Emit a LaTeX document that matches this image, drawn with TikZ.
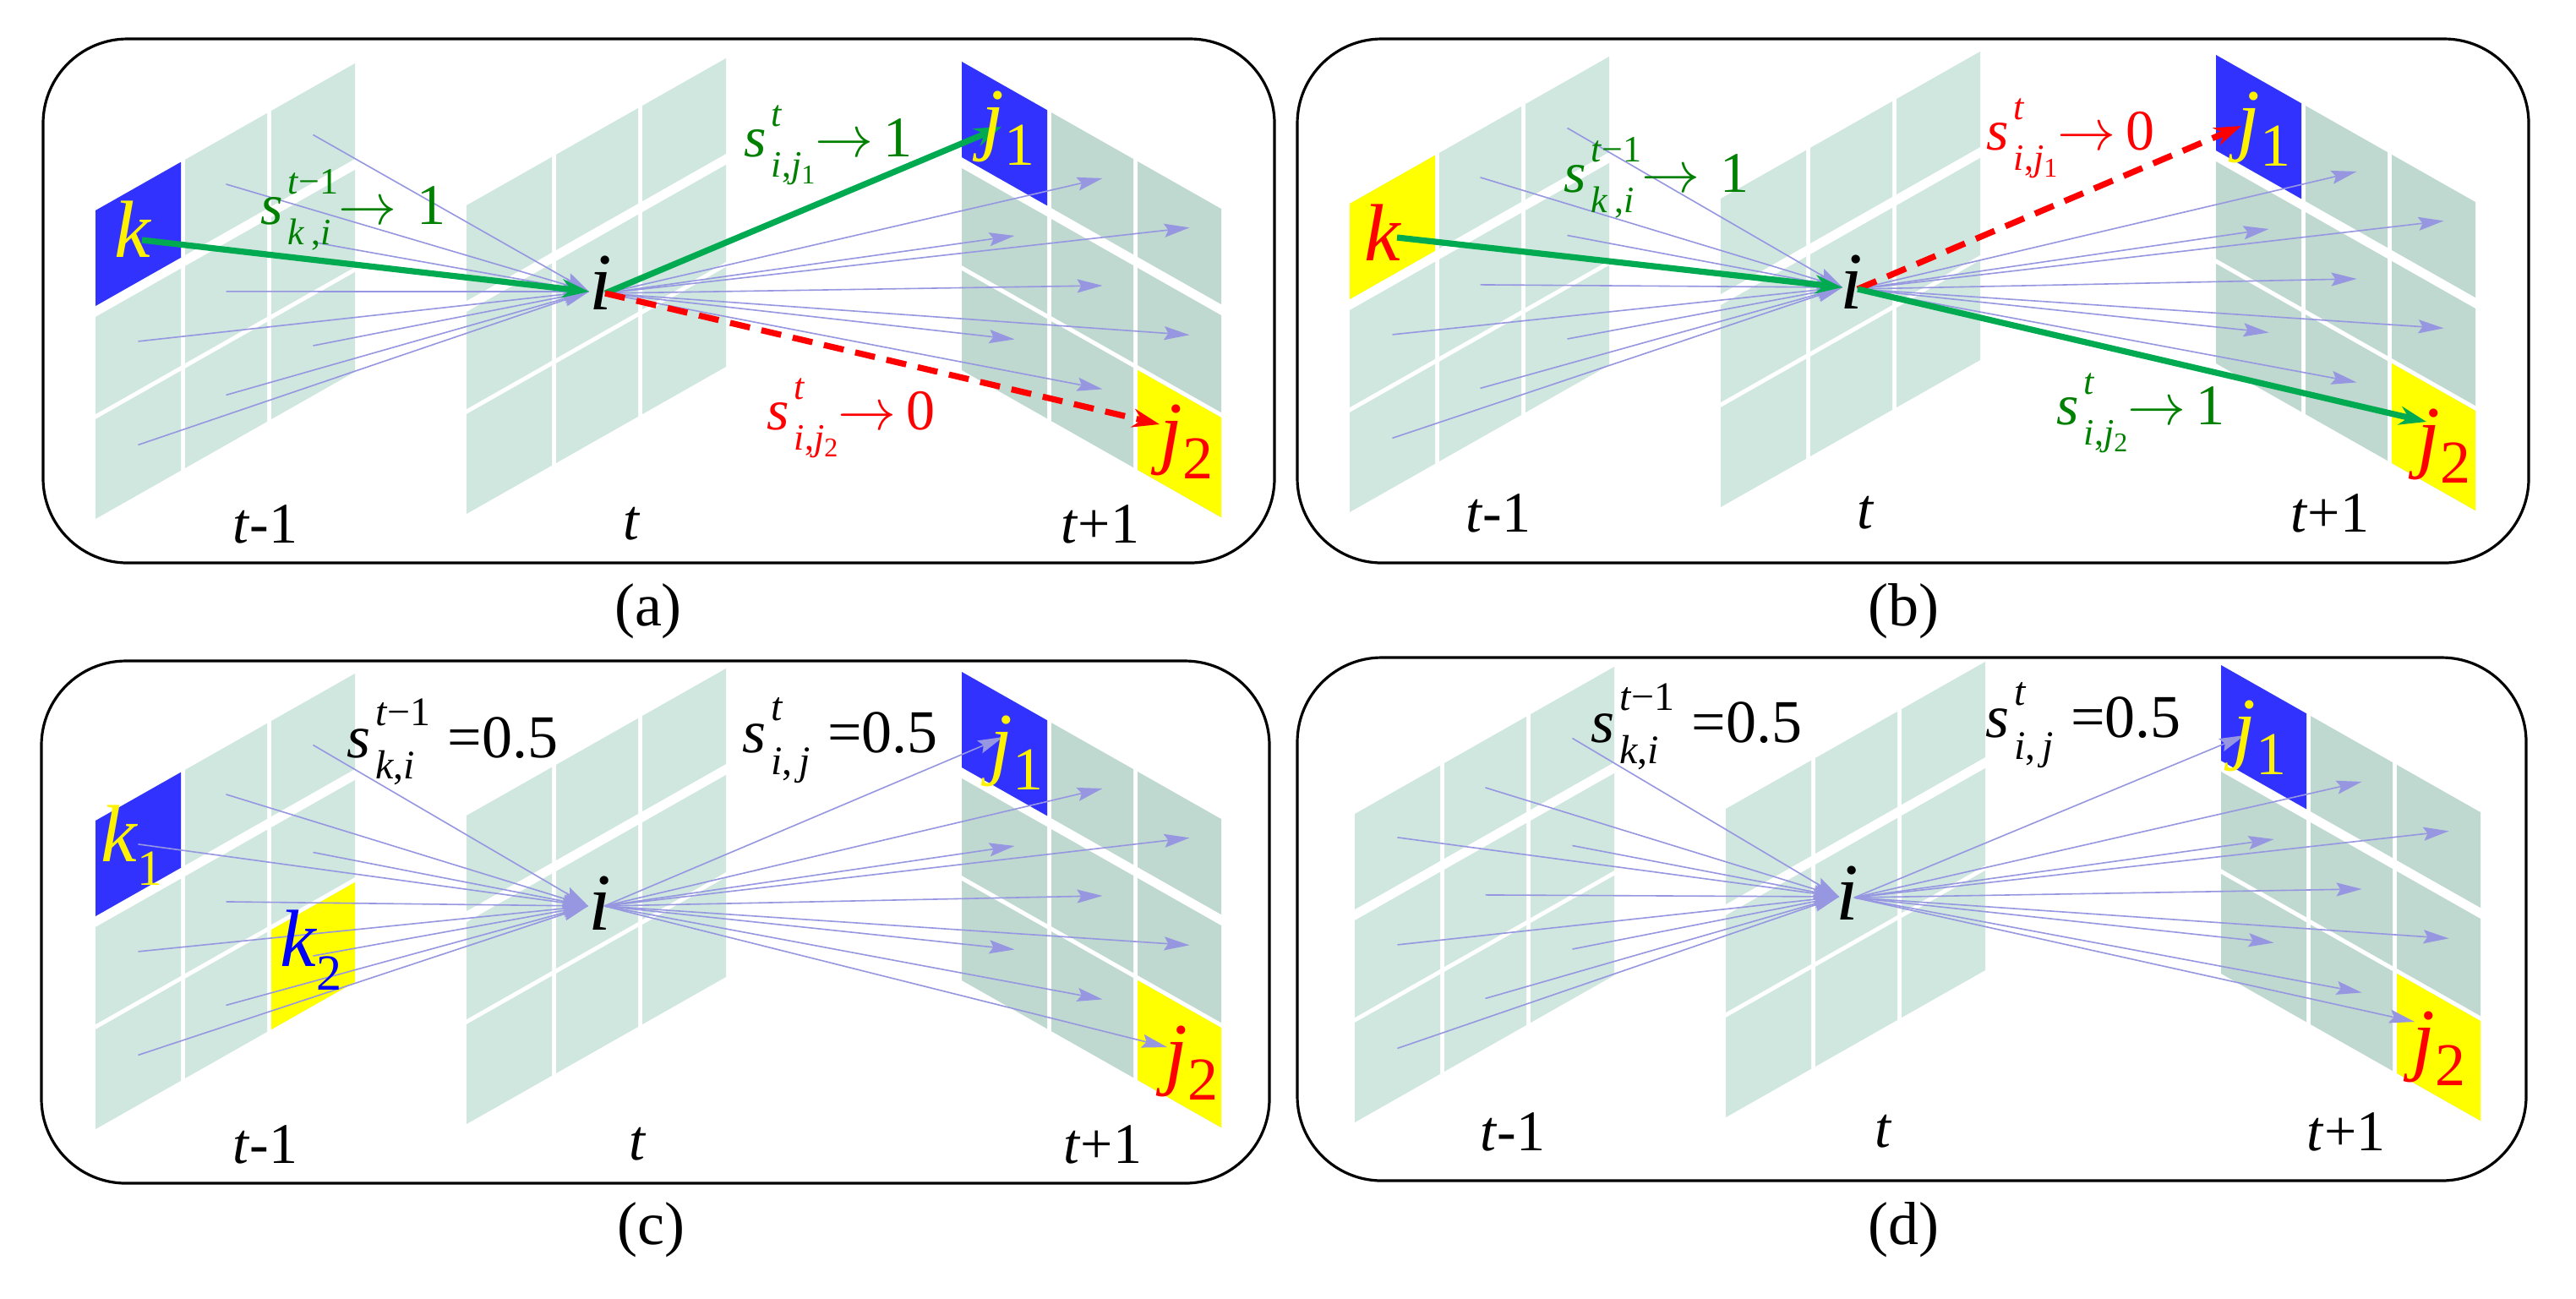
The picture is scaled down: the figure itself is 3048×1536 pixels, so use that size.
\documentclass[tikz,border=0pt]{standalone}
\usepackage{amsmath}
\usepackage{fontspec}
\setmainfont{Liberation Serif}
\usetikzlibrary{arrows.meta}

\definecolor{gridA}{RGB}{207,231,223}
\definecolor{gridB}{RGB}{191,216,208}
\definecolor{cellblue}{RGB}{50,50,255}
\definecolor{cellyellow}{RGB}{255,255,0}
\definecolor{arrgreen}{RGB}{0,170,80}
\definecolor{txtgreen}{RGB}{0,128,0}
\definecolor{lav}{RGB}{150,150,225}

\tikzset{
  lavarrow/.style={draw=lav, line width=0.4pt, -{Stealth[length=7.5pt,width=4pt,inset=1.2pt]}},
  greenarrow/.style={draw=arrgreen, line width=1.8pt, -{Stealth[length=8pt,width=5.5pt]}},
  redarrow/.style={draw=red, line width=1.8pt, dash pattern=on 6pt off 3.5pt, -{Stealth[length=8pt,width=5.5pt]}},
  panelbox/.style={draw=black, line width=0.8pt, rounded corners=25pt},
  letter/.style={inner sep=0pt, anchor=base, font=\fontsize{24}{24}\selectfont\itshape},
  mlab/.style={inner sep=0pt, font=\fontsize{17}{17}\selectfont},
  eqlab/.style={inner sep=0pt, font=\fontsize{18}{18}\selectfont},
  tlab/.style={inner sep=0pt, font=\fontsize{17}{17}\selectfont},
  caplab/.style={inner sep=0pt, font=\fontsize{18}{18}\selectfont},
}

\newcommand{\jsub}[1]{\raisebox{-6pt}{\upshape\fontsize{18}{18}\selectfont #1}}
\newcommand{\ksub}[1]{\raisebox{-7pt}{\upshape\fontsize{15}{15}\selectfont #1}}
\newcommand{\tinysub}[1]{\raisebox{-2pt}{\upshape\fontsize{8}{8}\selectfont #1}}
\newsavebox\supbx
\newsavebox\subbx
% s with superscript #2 and subscript #3, script size #1
\newcommand{\Ssym}[3][11]{%
  \textit{s}\kern1.5pt%
  \sbox\supbx{\fontsize{#1}{#1}\selectfont #2}%
  \sbox\subbx{\fontsize{#1}{#1}\selectfont #3}%
  \rlap{\raisebox{0.53em}{\usebox\supbx}}%
  \raisebox{-0.35em}{\usebox\subbx}%
  \ifdim\wd\supbx>\wd\subbx\kern\dimexpr\wd\supbx-\wd\subbx\relax\fi}

% grid: prefix, x0, y0, slant, colour
\newcommand{\drawgrid}[5]{%
  \begin{scope}[shift={(#2,#3)}, yslant=#4]
    \foreach \cc/\xa/\xb in {1/0/101,2/106/203,3/208/307}{%
      \foreach \rr/\ya/\yb in {1/0/113,2/126/241,3/247/365}{%
        \fill[#5] (\xa,\ya) rectangle (\xb,\yb);
        \coordinate (#1\cc\rr) at ({(\xa+\xb)/2},{(\ya+\yb)/2});
        \coordinate (#1\cc\rr-t) at ({(\xa+\xb)/2+12},{(\ya+\yb)/2-13});
      }}
  \end{scope}}
% paint one cell: x0,y0,slant,xa,ya,xb,yb,colour
\newcommand{\paintcell}[8]{%
  \begin{scope}[shift={(#1,#2)}, yslant=#3]
    \fill[#8] (#4,#5) rectangle (#6,#7);
  \end{scope}}
\newcommand{\panelgrids}[1]{%
  \drawgrid{#1L}{113}{249}{0.567}{gridA}
  \drawgrid{#1M}{552}{243}{0.567}{gridA}
  \drawgrid{#1R}{1138}{73}{-0.567}{gridB}}

\begin{document}
\begin{tikzpicture}[x=0.25pt, y=-0.25pt]
\useasboundingbox (0,0) rectangle (3048,1536);
\fill[white] (0,0) rectangle (3048,1536);

% panel boxes
\draw[panelbox] (51,46) rectangle (1508,666);
\draw[panelbox] (1535,46) rectangle (2992,666);
\draw[panelbox] (49,782) rectangle (1502,1400);
\draw[panelbox] (1535,778) rectangle (2989,1397);

% ---------------- panel (a)
\begin{scope}
  \panelgrids{a}
  \paintcell{113}{249}{0.567}{0}{0}{101}{113}{cellblue}
  \paintcell{1138}{73}{-0.567}{0}{0}{101}{113}{cellblue}
  \paintcell{1138}{73}{-0.567}{208}{247}{307}{365}{cellyellow}
  \coordinate (aK) at (168,284);
  \coordinate (aIin) at (697,345);
  \coordinate (aIout) at (716,347);
  \coordinate (aJ1) at (1185,150);
  \coordinate (aJ2) at (1372,502);
  \foreach \n in {12,13,21,22,23,31,32,33} \draw[lavarrow] (aL\n) -- (aIin);
  \foreach \n in {12,13,21,22,23,31,32} \draw[lavarrow] (aIout) -- (aR\n-t);
  \draw[greenarrow] (aK) -- (aIin);
  \draw[greenarrow] (aIout) -- (aJ1);
  \draw[redarrow] (aIout) -- (aJ2);
  \node[letter, text=yellow] (ak) at (157,304) {k};
  \node[letter] (ai) at (711,366) {i};
  \node[letter, text=yellow] (aj1) at (1193,171) {j\jsub{1}};
  \node[letter, text=red] (aj2) at (1404,542) {j\jsub{2}};
  \node[mlab, text=txtgreen] (als1) at (418,248) {\Ssym{\textit{t}−1}{\textit{k}\,,\textit{i}}$\rightarrow$\hspace{6pt}1};
  \node[mlab, text=txtgreen] (als2) at (980,172) {\Ssym{\textit{t}}{\textit{i},\textit{j}\tinysub{1}}$\rightarrow$\hspace{3pt}1};
  \node[mlab, text=red] (als3) at (1007,495) {\Ssym{\textit{t}}{\textit{i},\textit{j}\tinysub{2}}$\rightarrow$\hspace{3pt}0};
  \node[tlab] (at1) at (314,620) {\textit{t}-1};
  \node[tlab] (at2) at (748,620) {\textit{t}};
  \node[tlab] (at3) at (1302,620) {\textit{t}+1};
\end{scope}
\node[caplab] (capa) at (767,723) {(a)};

% ---------------- panel (b)
\begin{scope}[shift={(1484,-8)}]
  \panelgrids{b}
  \paintcell{113}{249}{0.567}{0}{0}{101}{113}{cellyellow}
  \paintcell{1138}{73}{-0.567}{0}{0}{101}{113}{cellblue}
  \paintcell{1138}{73}{-0.567}{208}{247}{307}{365}{cellyellow}
  \coordinate (bK) at (169,289);
  \coordinate (bIin) at (696,348);
  \coordinate (bIout) at (714,350);
  \coordinate (bJ1) at (1168,157);
  \coordinate (bJ2) at (1387,507);
  \foreach \n in {12,13,21,22,23,31,32,33} \draw[lavarrow] (bL\n) -- (bIin);
  \foreach \n in {12,13,21,22,23,31,32} \draw[lavarrow] (bIout) -- (bR\n-t);
  \draw[greenarrow] (bK) -- (bIin);
  \draw[redarrow] (bIout) -- (bJ1);
  \draw[greenarrow] (bIout) -- (bJ2);
  \node[letter, text=red] (bk) at (152,316) {k};
  \node[letter] (bi) at (707,373) {i};
  \node[letter, text=yellow] (bj1) at (1195,180) {j\jsub{1}};
  \node[letter, text=red] (bj2) at (1408,555) {j\jsub{2}};
  \node[mlab, text=txtgreen] (bls1) at (476,218) {\Ssym{\textit{t}−1}{\textit{k}\,,\textit{i}}$\rightarrow$\hspace{6pt}1};
  \node[mlab, text=red] (bls2) at (966,172) {\Ssym{\textit{t}}{\textit{i},\textit{j}\tinysub{1}}$\rightarrow$\hspace{3pt}0};
  \node[mlab, text=txtgreen] (bls3) at (1049,497) {\Ssym{\textit{t}}{\textit{i},\textit{j}\tinysub{2}}$\rightarrow$\hspace{3pt}1};
  \node[tlab] (bt1) at (289,615) {\textit{t}-1};
  \node[tlab] (bt2) at (724,615) {\textit{t}};
  \node[tlab] (bt3) at (1273,615) {\textit{t}+1};
\end{scope}
\node[caplab] (capb) at (2252,723) {(b)};

% ---------------- panel (c)
\begin{scope}[shift={(0,722)}]
  \panelgrids{c}
  \paintcell{113}{249}{0.567}{0}{0}{101}{113}{cellblue}
  \paintcell{113}{249}{0.567}{208}{247}{307}{365}{cellyellow}
  \paintcell{1138}{73}{-0.567}{0}{0}{101}{113}{cellblue}
  \paintcell{1138}{73}{-0.567}{208}{247}{307}{365}{cellyellow}
  \coordinate (cIin) at (696,350);
  \coordinate (cIout) at (715,350);
  \coordinate (cJ1) at (1187,150);
  \coordinate (cJ2) at (1381,517);
  \foreach \n in {11,12,13,21,22,23,31,32,33} \draw[lavarrow] (cL\n) -- (cIin);
  \foreach \n in {12,13,21,22,23,31,32} \draw[lavarrow] (cIout) -- (cR\n-t);
  \draw[lavarrow] (cIout) -- (cJ1);
  \draw[lavarrow] (cIout) -- (cJ2);
  \node[letter, text=yellow] (ck1) at (156,297) {k\ksub{1}};
  \node[letter, text=blue] (ck2) at (368,421) {k\ksub{2}};
  \node[letter] (ci) at (710,378) {i};
  \node[letter, text=yellow] (cj1) at (1203,188) {j\jsub{1}};
  \node[letter, text=red] (cj2) at (1410,555) {j\jsub{2}};
  \node[eqlab] (cls1) at (535,156) {\Ssym[12]{\textit{t}−1}{\textit{k},\textit{i}}\hspace{5pt}=0.5};
  \node[eqlab] (cls2) at (994,154) {\Ssym[12]{\textit{t}}{\textit{i},\,\textit{j}}\hspace{5pt}=0.5};
  \node[tlab] (ct1) at (314,632) {\textit{t}-1};
  \node[tlab] (ct2) at (755,632) {\textit{t}};
  \node[tlab] (ct3) at (1305,632) {\textit{t}+1};
\end{scope}
\node[caplab] (capc) at (770,1455) {(c)};

% ---------------- panel (d)
\begin{scope}[shift={(1490,714)}]
  \panelgrids{d}
  \paintcell{1138}{73}{-0.567}{0}{0}{101}{113}{cellblue}
  \paintcell{1138}{73}{-0.567}{208}{247}{307}{365}{cellyellow}
  \coordinate (dIin) at (686,347);
  \coordinate (dIout) at (704,348);
  \coordinate (dJ1) at (1166,156);
  \coordinate (dJ2) at (1367,495);
  \foreach \n in {11,12,13,21,22,23,31,32,33} \draw[lavarrow] (dL\n) -- (dIin);
  \foreach \n in {12,13,21,22,23,31,32} \draw[lavarrow] (dIout) -- (dR\n-t);
  \draw[lavarrow] (dIout) -- (dJ1);
  \draw[lavarrow] (dIout) -- (dJ2);
  \node[letter] (di) at (696,374) {i};
  \node[letter, text=yellow] (dj1) at (1184,178) {j\jsub{1}};
  \node[letter, text=red] (dj2) at (1396,546) {j\jsub{2}};
  \node[eqlab] (dls1) at (517,146) {\Ssym[12]{\textit{t}−1}{\textit{k},\textit{i}}\hspace{5pt}=0.5};
  \node[eqlab] (dls2) at (975,144) {\Ssym[12]{\textit{t}}{\textit{i},\,\textit{j}}\hspace{5pt}=0.5};
  \node[tlab] (dt1) at (300,625) {\textit{t}-1};
  \node[tlab] (dt2) at (739,625) {\textit{t}};
  \node[tlab] (dt3) at (1286,625) {\textit{t}+1};
\end{scope}
\node[caplab] (capd) at (2252,1455) {(d)};
\end{tikzpicture}
\end{document}
